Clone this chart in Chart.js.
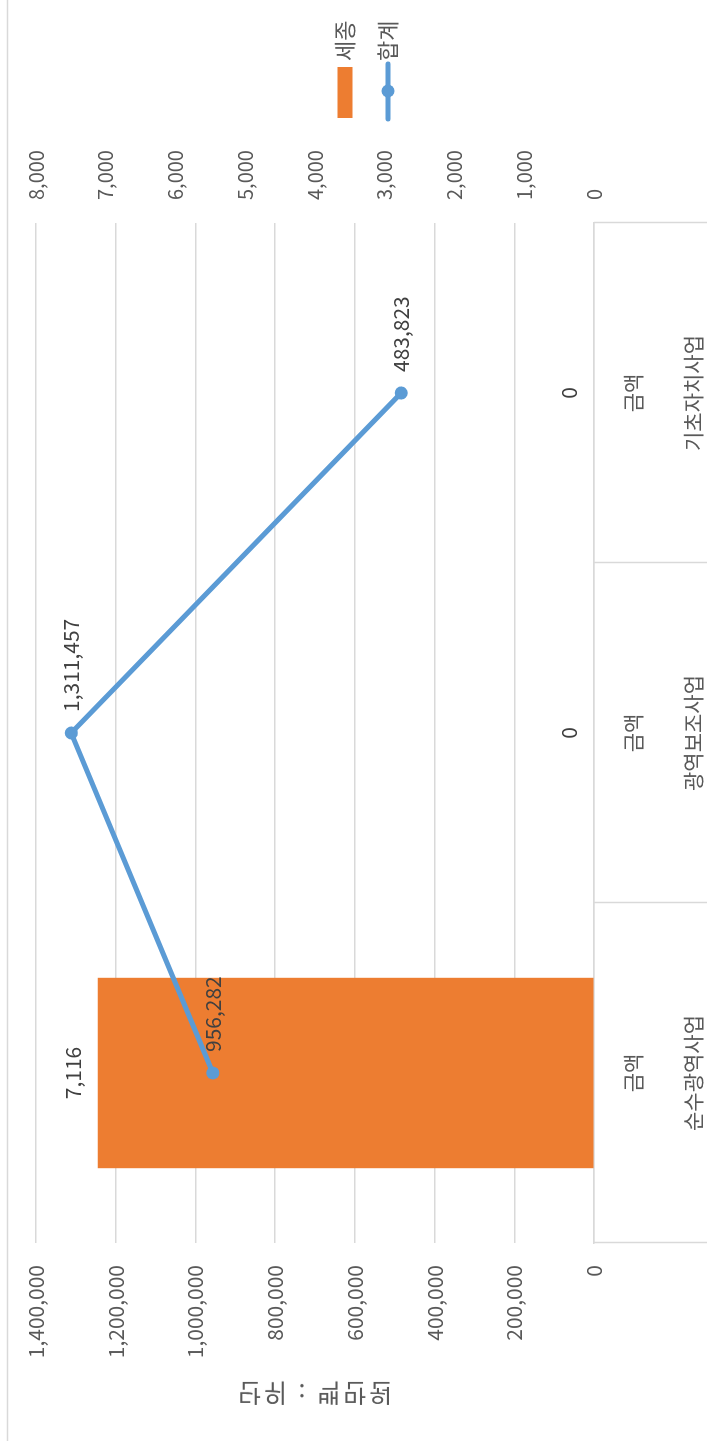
<!DOCTYPE html>
<html>
<head>
<meta charset="utf-8">
<script src="https://cdn.jsdelivr.net/npm/chart.js@4/dist/chart.umd.min.js"></script>
<style>
  html, body { margin: 0; padding: 0; background: #ffffff; }
  body { width: 707px; height: 1441px; position: relative; overflow: hidden; }
  #wrap {
    position: absolute; left: 0; top: 0;
    width: 1441px; height: 707px;
    transform-origin: 0 0;
    transform: translate(0px, 1441px) rotate(-90deg);
  }
  #unit {
    position: absolute; left: 238px; top: 1377px;
    font-family: "Noto Sans CJK KR", sans-serif; font-size: 25px;
    color: #595959; white-space: nowrap; letter-spacing: 3px;
    transform: scaleY(-1);
  }
</style>
</head>
<body>
<div id="wrap"><canvas id="c" width="1441" height="707"></canvas></div>
<div id="unit">단위 : 백만원</div>
<script>
// ---- data ----
const categoryTop = ["금액", "금액", "금액"];
const categoryBottom = ["순수광역사업", "광역보조사업", "기초자치사업"];
const sejongValues = [7116, 0, 0];          // 세종 (right axis)
const totalValues = [956282, 1311457, 483823]; // 합계 (left axis)
const leftTicksMax = 1400000;
const leftTickStep = 200000;
const rightTicksMax = 8000;
const rightTickStep = 1000;
const seriesNames = ["세종", "합계"];

const FONT = '"Noto Sans CJK KR", "Noto Sans", sans-serif';
const ORANGE = '#ED7D31';
const BLUE = '#5B9BD5';
const GRID = '#d9d9d9';
const fmt = v => Number(v).toLocaleString('en-US');

const labels = categoryTop.map((t, i) => [t, categoryBottom[i]]);

const decorPlugin = {
  id: 'decor',
  beforeDraw(chart) {
    const ctx = chart.ctx;
    ctx.save();
    ctx.fillStyle = '#ffffff';
    ctx.fillRect(0, 0, chart.width, chart.height);
    // outer chart border (top edge)
    ctx.strokeStyle = GRID;
    ctx.lineWidth = 1.5;
    ctx.beginPath();
    ctx.moveTo(0, 7.5);
    ctx.lineTo(chart.width, 7.5);
    ctx.stroke();
    ctx.restore();
  },
  afterDraw(chart) {
    const ctx = chart.ctx;
    const xs = chart.scales.x;
    const area = chart.chartArea;
    ctx.save();
    // category separators below axis
    ctx.strokeStyle = GRID;
    ctx.lineWidth = 1.5;
    for (let i = 0; i <= labels.length; i++) {
      const px = Math.round(xs.getPixelForValue(i - 0.5)) + 0.5;
      ctx.beginPath();
      ctx.moveTo(px, area.bottom);
      ctx.lineTo(px, chart.height);
      ctx.stroke();
    }
    // legend
    const lx = area.right + 105;
    const cy = chart.height / 2;
    const y1 = cy - 8.5, y2 = cy + 34.5;
    ctx.fillStyle = ORANGE;
    ctx.fillRect(lx, y1 - 7.5, 51, 15);
    ctx.strokeStyle = BLUE;
    ctx.lineWidth = 5;
    ctx.lineCap = 'round';
    ctx.beginPath();
    ctx.moveTo(lx - 1, y2);
    ctx.lineTo(lx + 54, y2);
    ctx.stroke();
    ctx.fillStyle = BLUE;
    ctx.beginPath();
    ctx.arc(lx + 27, y2, 6.5, 0, Math.PI * 2);
    ctx.fill();
    ctx.fillStyle = '#595959';
    ctx.font = '22px ' + FONT;
    ctx.textAlign = 'left';
    ctx.textBaseline = 'middle';
    ctx.fillText(seriesNames[0], lx + 57, y1);
    ctx.fillText(seriesNames[1], lx + 57, y2);
    ctx.restore();
  },
  afterDatasetsDraw(chart) {
    const ctx = chart.ctx;
    ctx.save();
    ctx.font = '21px ' + FONT;
    ctx.fillStyle = '#404040';
    ctx.textBaseline = 'middle';
    // bar labels
    const barMeta = chart.getDatasetMeta(0);
    ctx.textAlign = 'center';
    barMeta.data.forEach((el, i) => {
      ctx.fillText(fmt(sejongValues[i]), el.x, el.y - 25);
    });
    // line labels
    const lineMeta = chart.getDatasetMeta(1);
    ctx.textAlign = 'left';
    lineMeta.data.forEach((el, i) => {
      ctx.fillText(fmt(totalValues[i]), el.x + 21, el.y);
    });
    ctx.restore();
  }
};

new Chart(document.getElementById('c'), {
  data: {
    labels: labels,
    datasets: [
      {
        type: 'bar',
        label: seriesNames[0],
        data: sejongValues,
        yAxisID: 'y1',
        backgroundColor: ORANGE,
        borderWidth: 0,
        categoryPercentage: 1,
        barPercentage: 0.56,
        order: 2
      },
      {
        type: 'line',
        label: seriesNames[1],
        data: totalValues,
        yAxisID: 'y',
        borderColor: BLUE,
        backgroundColor: BLUE,
        borderWidth: 5,
        pointRadius: 6.5,
        pointBorderWidth: 0,
        pointBackgroundColor: BLUE,
        tension: 0,
        order: 1
      }
    ]
  },
  options: {
    responsive: false,
    animation: false,
    devicePixelRatio: 1,
    layout: { padding: { top: 36, left: 0, right: 0, bottom: 0 } },
    plugins: { legend: { display: false }, tooltip: { enabled: false }, title: { display: false } },
    scales: {
      x: {
        type: 'category',
        offset: true,
        grid: { display: false },
        border: { display: true, color: GRID, width: 1.5 },
        ticks: {
          color: '#595959',
          font: { family: FONT, size: 21, lineHeight: 60 / 21 },
          padding: 1,
          maxRotation: 0,
          autoSkip: false
        },
        afterFit(s) { s.height = 113; }
      },
      y: {
        position: 'left',
        min: 0,
        max: leftTicksMax,
        grid: { color: GRID, lineWidth: 1.5, drawTicks: false },
        border: { display: false },
        ticks: {
          stepSize: leftTickStep,
          color: '#595959',
          font: { family: FONT, size: 21 },
          padding: 22,
          callback: v => fmt(v)
        },
        afterFit(s) { s.width = 198; }
      },
      y1: {
        position: 'right',
        min: 0,
        max: rightTicksMax,
        grid: { drawOnChartArea: false, drawTicks: false },
        border: { display: false },
        ticks: {
          stepSize: rightTickStep,
          color: '#595959',
          font: { family: FONT, size: 20 },
          padding: 23,
          callback: v => fmt(v)
        },
        afterFit(s) { s.width = 223; }
      }
    }
  },
  plugins: [decorPlugin]
});
</script>
</body>
</html>
